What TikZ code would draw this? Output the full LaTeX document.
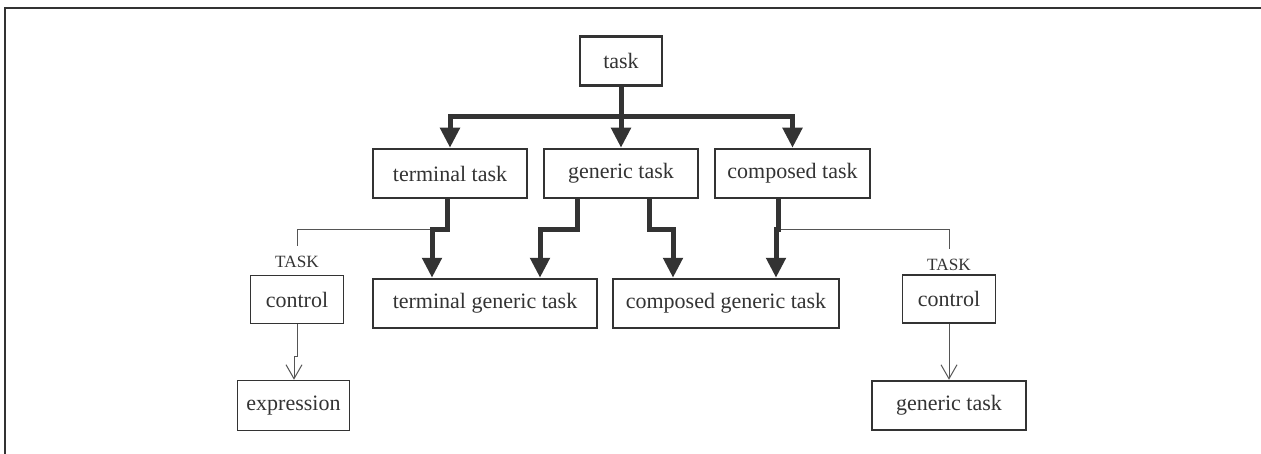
\documentclass[tikz,border=0pt]{standalone}
\usepackage{fontspec}
\setmainfont{Liberation Serif}
\usetikzlibrary{arrows.meta,positioning,calc}
\definecolor{ink}{HTML}{333333}
\definecolor{wire}{HTML}{555555}
\tikzset{
  every node/.style={text=ink},
  box/.style={draw=ink,line width=1.25pt,minimum height=24.5pt,align=center,inner sep=2pt,font=\fontsize{11}{13}\selectfont},
  ctlbox/.style={box,line width=0.7pt},
  tag/.style={font=\fontsize{8.6}{9}\selectfont,inner xsep=1pt,inner ysep=5.1pt},
  bigarrow/.style={-{Triangle[length=10pt,width=9.5pt]},line width=2.5pt,draw=ink},
  thinline/.style={line width=0.5pt,draw=wire},
  thinarrow/.style={thinline,-{Straight Barb[length=7pt,width=8pt]}},
  frame/.style={line width=1.3pt,draw=ink},
}

\begin{document}
\begin{tikzpicture}[x=0.5pt,y=-0.5pt]
  \useasboundingbox (0,0) rectangle (1261,454);
  \draw[frame] (5,454) |- (1261,8);
  % top level
  \node[box,minimum width=41pt] (task) at (621,61) {task};
  \node[box,minimum width=77pt] (term) at (450,173.5) {terminal task};
  \node[box,minimum width=77pt] (gen) at (621,173.5) {generic task};
  \node[box,minimum width=77.5pt] (comp) at (792.5,173.5) {composed task};
  % combined tasks
  \node[box,minimum width=112pt] (termgen) at (485,303.5) {terminal generic task};
  \node[box,minimum width=113pt] (compgen) at (726,303.5) {composed generic task};
  % control side branches
  \node[ctlbox,minimum width=46.5pt,minimum height=24pt] (ctlleft) at (297,299.5) {control};
  \node[tag] (tagleft) at (297,262) {TASK};
  \node[ctlbox,minimum width=56pt,minimum height=25pt,line width=0.8pt] (expr) at (293.5,405.5) {expression};
  \node[ctlbox,minimum width=46.5pt,minimum height=24pt] (ctlright) at (949,299) {control};
  \node[tag] (tagright) at (949,265) {TASK};
  \node[box,minimum width=77pt] (gen2) at (949,405.5) {generic task};
  % junctions
  \coordinate (bar) at (621,117);
  \coordinate (j1) at (432,229);
  \coordinate (j2) at (540,229);
  \coordinate (j3) at (673,229);
  \coordinate (j4) at (776,229);
  \coordinate (j5) at (294,356);
  \draw[bigarrow] (task.south) -- (gen.north);
  \draw[bigarrow] (bar) -| (term.north);
  \draw[bigarrow] (bar) -| (comp.north);
  \draw[thinline] (j1) -| (tagleft.north);
  \draw[thinline] (j4) -| (tagright.north);
  \draw[bigarrow] ([xshift=-1.5pt]term.south) |- (j1) -- (j1 |- termgen.north);
  \draw[bigarrow] ([xshift=-22pt]gen.south) |- (j2) -- (j2 |- termgen.north);
  \draw[bigarrow] ([xshift=14pt]gen.south) |- (j3) -- (j3 |- compgen.north);
  \draw[bigarrow] ([xshift=-7.25pt]comp.south) |- (j4) -- (j4 |- compgen.north);
  \draw[thinarrow] (ctlleft.south) |- (j5) -- (j5 |- expr.north);
  \draw[thinarrow] (ctlright.south) -- (gen2.north);
\end{tikzpicture}
\end{document}
